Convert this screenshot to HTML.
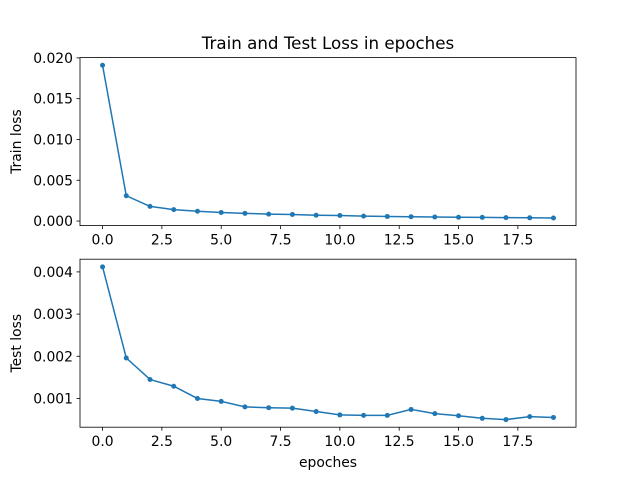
<!DOCTYPE html>
<html><head><meta charset="utf-8"><style>
body{margin:0;background:#fff}
svg text{font-family:"DejaVu Sans","Liberation Sans",sans-serif;font-size:13.9px;fill:#000}
</style></head><body>
<svg id="c" width="640" height="480"></svg>
<script>
const epochs=[0,1,2,3,4,5,6,7,8,9,10,11,12,13,14,15,16,17,18,19];
const trainLoss=[0.0191,0.0031,0.0018,0.0014,0.0012,0.00105,0.00095,0.00085,0.0008,0.00072,0.00068,0.0006,0.00056,0.00053,0.0005,0.00047,0.00045,0.00042,0.0004,0.00038];
const testLoss=[0.00412,0.00196,0.00145,0.00129,0.00100,0.00093,0.00080,0.00078,0.00077,0.00069,0.00061,0.00060,0.00060,0.00074,0.00064,0.00059,0.00053,0.00050,0.00057,0.00055];
const xTicks=[0,2.5,5,7.5,10,12.5,15,17.5];
const trainTicks=[0,0.005,0.01,0.015,0.02];
const testTicks=[0.001,0.002,0.003,0.004];
const svg=document.getElementById('c');
const NS='http://www.w3.org/2000/svg';
function mk(t,a,p){const e=document.createElementNS(NS,t);for(const k in a)e.setAttribute(k,a[k]);(p||svg).appendChild(e);return e;}
const L=80,R=576;
const xmin=-0.95,xmax=19.95;
const xs=v=>L+(v-xmin)/(xmax-xmin)*(R-L);
function panel(top,bot,vals,ticks,ylabel,name){
  const mn=Math.min(...vals),mx=Math.max(...vals),m=(mx-mn)*0.05;
  const y0=mn-m,y1=mx+m;
  const ys=v=>bot-(v-y0)/(y1-y0)*(bot-top);
  const g=mk('g',{});
  
  
  xTicks.forEach(t=>{const x=xs(t);mk('line',{x1:x,x2:x,y1:bot,y2:bot+3.5,stroke:'#000','stroke-width':0.8},g);
    const tx=mk('text',{x:x,y:bot+19,'text-anchor':'middle'},g);tx.textContent=t.toFixed(1);
    });
  ticks.forEach(t=>{const y=ys(t);mk('line',{x1:L-3.5,x2:L,y1:y,y2:y,stroke:'#000','stroke-width':0.8},g);
    const tx=mk('text',{x:L-7,y:y+5,'text-anchor':'end'},g);tx.textContent=t.toFixed(3);
    });
  const pts=epochs.map((e,i)=>xs(e)+','+ys(vals[i])).join(' ');
  const pl=mk('polyline',{points:pts,fill:'none',stroke:'#1f77b4','stroke-width':1.5},g);
  
  epochs.forEach((e,i)=>{const c=mk('circle',{cx:xs(e),cy:ys(vals[i]),r:2.5,fill:'#1f77b4'},g);
    });
  const fr=mk('rect',{x:L,y:top,width:R-L,height:bot-top,fill:'none',stroke:'#000','stroke-width':0.8},g);
  
  const yl=mk('text',{x:0,y:0,'text-anchor':'middle',transform:`translate(21,${(top+bot)/2}) rotate(-90)`},g);
  yl.textContent=ylabel;
}
panel(57.6,225.6,trainLoss,trainTicks,'Train loss','train-panel');
panel(259.2,427.2,testLoss,testTicks,'Test loss','test-panel');
const ti=mk('text',{x:328,y:49,'text-anchor':'middle',style:'font-size:16.7px'});
ti.textContent='Train and Test Loss in epoches';

const xl=mk('text',{x:328,y:467,'text-anchor':'middle'});
xl.textContent='epoches';

</script>
</body></html>
